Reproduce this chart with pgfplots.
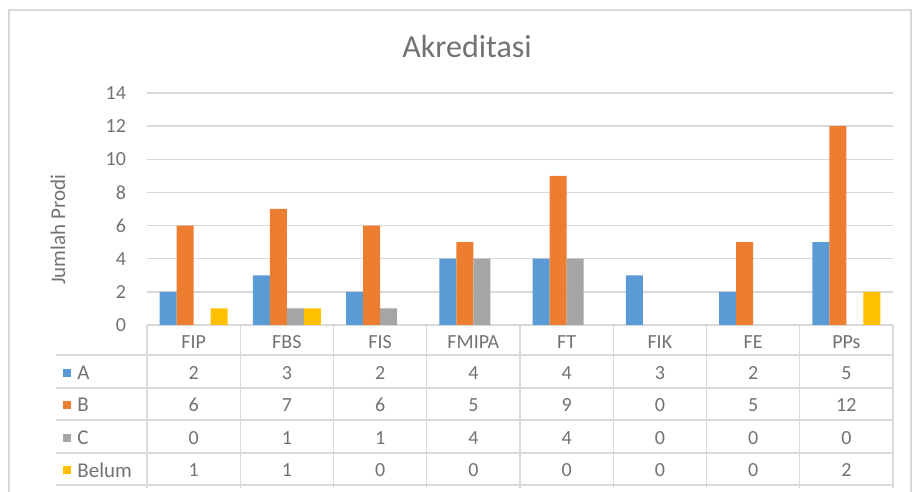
\documentclass[border=0pt]{standalone}
\usepackage{fontspec}
\setmainfont{Carlito}
\usepackage{pgfplots}
\pgfplotsset{compat=1.18}
\definecolor{cA}{HTML}{5B9BD5}
\definecolor{cB}{HTML}{ED7D31}
\definecolor{cC}{HTML}{A5A5A5}
\definecolor{cD}{HTML}{FFC000}
\definecolor{gridc}{HTML}{D9D9D9}
\definecolor{txt}{HTML}{727272}
\begin{document}
\begin{tikzpicture}
\path[use as bounding box] (0pt,0pt) rectangle (456pt,246pt);
\draw[gridc, line width=1pt] (4.5pt,-5pt) rectangle (455.5pt,241pt);
\begin{axis}[
  at={(73.5pt,83.5pt)}, anchor=south west,
  scale only axis, width=373pt, height=116pt,
  xmin=-0.5, xmax=7.5, ymin=0, ymax=14,
  ytick={0,2,...,14}, xtick=\empty,
  axis line style={draw=none},
  ymajorgrids, grid style={gridc, line width=0.7pt},
  major tick length=0pt,
  tick label style={font=\fontsize{10}{12}\selectfont, text=txt},
  yticklabel style={xshift=-7pt},
  /pgf/number format/assume math mode=true,
  ybar=0pt, bar width=0.182,
  clip=false,
]
% zero values are left out: Excel draws nothing for them
\addplot[fill=cA, draw=none, bar shift=-0.273] coordinates {(0,2) (1,3) (2,2) (3,4) (4,4) (5,3) (6,2) (7,5)};
\addplot[fill=cB, draw=none, bar shift=-0.091] coordinates {(0,6) (1,7) (2,6) (3,5) (4,9) (6,5) (7,12)};
\addplot[fill=cC, draw=none, bar shift=0.091] coordinates {(1,1) (2,1) (3,4) (4,4)};
\addplot[fill=cD, draw=none, bar shift=0.273] coordinates {(0,1) (1,1) (7,2)};
\end{axis}
% title and y label
\node[font=\fontsize{16}{19}\selectfont, text=txt] at (233.5pt,222.5pt) {Akreditasi};
\node[font=\fontsize{10.5}{12}\selectfont, text=txt, rotate=90] at (29pt,131pt) {Jumlah Prodi};
% data table lines
\foreach \y in {68.5,52,36,19.5,3.5} \draw[gridc, line width=0.7pt] (28pt,\y pt) -- (446.5pt,\y pt);
\foreach \k in {0,...,8} \draw[gridc, line width=0.7pt] ({73.5pt+46.625pt*\k},83.5pt) -- ({73.5pt+46.625pt*\k},2pt);
% category names
\foreach \lab [count=\i from 0] in {FIP,FBS,FIS,FMIPA,FT,FIK,FE,PPs}
  \node[font=\fontsize{10}{12}\selectfont, text=txt] at ({73.5pt+46.625pt*(\i+0.5)},75pt) {\lab};
% legend keys
\foreach \c/\n/\y in {cA/A/59.5,cB/B/43.5,cC/C/27,cD/Belum/11} {
  \fill[\c] (31.5pt,\y pt-2pt) rectangle (35.5pt,\y pt+2pt);
  \node[font=\fontsize{10.5}{12}\selectfont, text=txt, anchor=west, inner sep=0pt] at (38.5pt,\y pt) {\n};
}
% values
\foreach \v [count=\i from 0] in {2,3,2,4,4,3,2,5}
  \node[font=\fontsize{10}{12}\selectfont, text=txt] at ({73.5pt+46.625pt*(\i+0.5)},59.5pt) {\v};
\foreach \v [count=\i from 0] in {6,7,6,5,9,0,5,12}
  \node[font=\fontsize{10}{12}\selectfont, text=txt] at ({73.5pt+46.625pt*(\i+0.5)},43.5pt) {\v};
\foreach \v [count=\i from 0] in {0,1,1,4,4,0,0,0}
  \node[font=\fontsize{10}{12}\selectfont, text=txt] at ({73.5pt+46.625pt*(\i+0.5)},27pt) {\v};
\foreach \v [count=\i from 0] in {1,1,0,0,0,0,0,2}
  \node[font=\fontsize{10}{12}\selectfont, text=txt] at ({73.5pt+46.625pt*(\i+0.5)},11pt) {\v};
\end{tikzpicture}
\end{document}
